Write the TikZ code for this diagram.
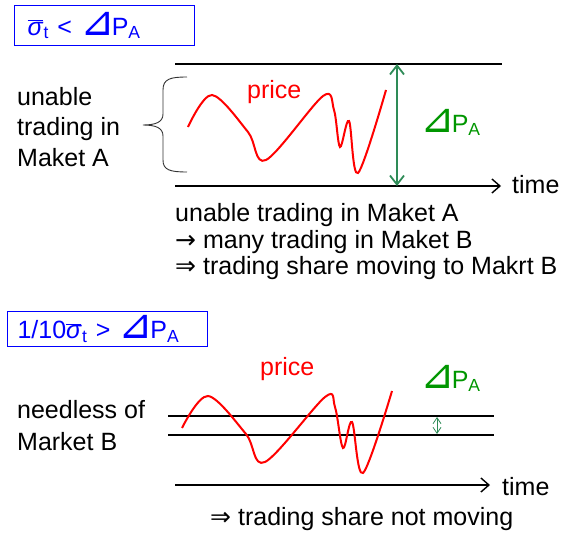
\documentclass[tikz,border=0pt]{standalone}
\usepackage{fontspec}
\setmainfont{Liberation Sans}
\newfontfamily\symfont{DejaVu Sans}
\usetikzlibrary{arrows.meta}

\definecolor{condblue}{RGB}{0,0,255}
\definecolor{dpgreen}{RGB}{0,150,0}
\definecolor{rangegreen}{RGB}{46,139,87}

\newcommand{\rtri}{{\symfont\scalebox{1.65}{⊿}}\kern-3pt}
\newcommand{\sigbar}{$\overline{\hbox{\itshape σ}}$\kern1pt\textsubscript{t}}
\newcommand{\dPA}{\rtri P\textsubscript{A}}

\begin{document}
\begin{tikzpicture}[x=1pt, y=-1pt, font=\fontsize{25}{27}\selectfont]
  \tikzset{
    lbl/.style={anchor=base west, inner sep=0pt},
    condbox/.style={draw=condblue, text=condblue, line width=1pt, anchor=north west,
      inner ysep=0pt, align=left},
    timeaxis/.style={-{Straight Barb[length=8pt,width=14pt]}, line width=1.4pt},
    level/.style={line width=1.4pt},
    pricecurve/.style={red, line width=2pt, smooth, tension=0.55},
  }
  \useasboundingbox (0,0) rectangle (563,538);

  % condition A
  \node[condbox, minimum width=180pt, minimum height=40pt, inner xsep=13pt,
        text width=154pt] (condA) at (14,5) {\sigbar{} < \dPA};

  \node[lbl] (unA1) at (17,105) {unable};
  \node[lbl] (unA2) at (17,135) {trading in};
  \node[lbl] (unA3) at (17,166) {Maket A};

  \draw[line width=0.9pt, black!80] (187,77) .. controls (170,77) and (163,79) .. (163,90)
    -- (163,114) .. controls (163,122) and (156,125) .. (143,125)
    .. controls (156,125) and (163,128) .. (163,136) -- (163,160)
    .. controls (163,170) and (170,172) .. (187,172);

  \coordinate (hiA) at (175,64);
  \coordinate (hiAend) at (502,64);
  \coordinate (axA) at (175,186);
  \coordinate (axAend) at (501,186);
  \draw[level] (hiA) -- (hiAend);
  \draw[timeaxis] (axA) -- (axAend);
  \node[lbl] (timeA) at (512,193) {time};

  \coordinate (rngAtop) at (397,64);
  \coordinate (rngAbot) at (397,186);
  \draw[rangegreen, line width=1.8pt, {Straight Barb[length=9pt,width=14pt]}-{Straight Barb[length=9pt,width=14pt]}]
    (rngAtop) -- (rngAbot);
  \node[lbl, text=dpgreen] (dpA) at (420,132) {\dPA};

  \node[lbl, text=red] (priceA) at (247,98) {price};
  \draw[pricecurve] plot coordinates {(188,127) (212,95) (248,132) (266,160)
    (323,96) (334,110) (340,147) (349,121) (358,173) (386,90)};

  \node[lbl] (resA1) at (175,221) {unable trading in Maket A};
  \node[lbl] (resA2) at (175,248) {{\symfont →} many trading in Maket B};
  \node[lbl] (resA3) at (175,274) {{\symfont ⇒} trading share moving to Makrt B};

  % condition B
  \node[condbox, minimum width=200pt, minimum height=35pt, inner xsep=10pt,
        text width=180pt] (condB) at (7,311) {1/10\sigbar{} > \dPA};

  \node[lbl] (needB1) at (17,418) {needless of};
  \node[lbl] (needB2) at (17,450) {Market B};

  \node[lbl, text=red] (priceB) at (260,375) {price};
  \node[lbl, text=dpgreen] (dpB) at (420,388) {\dPA};

  \coordinate (hiB) at (168,416);
  \coordinate (hiBend) at (494,416);
  \coordinate (loB) at (168,435);
  \coordinate (loBend) at (494,435);
  \draw[level] (hiB) -- (hiBend);
  \draw[level] (loB) -- (loBend);

  \coordinate (rngBtop) at (437,417);
  \coordinate (rngBbot) at (437,434);
  \draw[rangegreen, line width=0.8pt, {Straight Barb[length=6pt,width=8pt]}-{Straight Barb[length=6pt,width=8pt]}]
    (rngBtop) -- (rngBbot);

  \draw[pricecurve] plot coordinates {(182,428) (208,396) (246,434) (265,462)
    (325,397) (335,407) (343,448) (352,422) (363,473) (392,391)};

  \coordinate (axB) at (175,485);
  \coordinate (axBend) at (490,485);
  \draw[timeaxis] (axB) -- (axBend);
  \node[lbl] (timeB) at (502,495) {time};

  \node[lbl] (resB) at (210,525) {{\symfont ⇒} trading share not moving};
\end{tikzpicture}
\end{document}
